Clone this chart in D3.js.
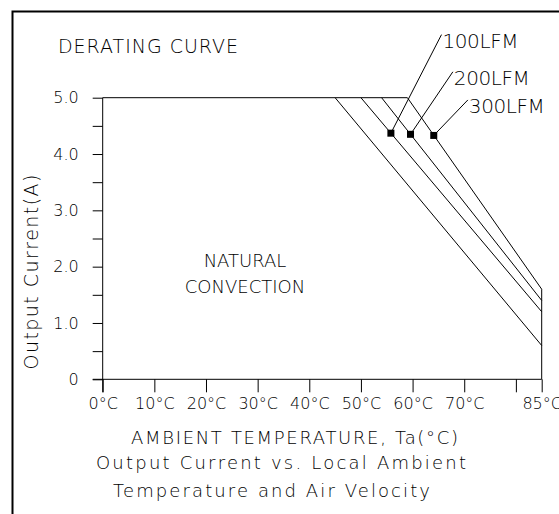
<!DOCTYPE html>
<html>
<head>
<meta charset="utf-8">
<script src="https://cdn.jsdelivr.net/npm/d3@7"></script>
<style>
  body { margin: 0; background: #fff; }
  svg { display: block; }
  text { font-family: "DejaVu Sans", sans-serif; font-weight: 200; fill: #000; }
</style>
</head>
<body>
<svg id="chart" width="559" height="514"></svg>
<script>
const width = 559;
const height = 514;

// temperature axis (deg C) and current axis (A)
const tempTicks = [0, 10, 20, 30, 40, 50, 60, 70, 80, 85];
const tempLabels = ['0°C', '10°C', '20°C', '30°C', '40°C', '50°C', '60°C', '70°C', '', '85°C'];
const currentTicks = [0, 0.5, 1, 1.5, 2, 2.5, 3, 3.5, 4, 4.5, 5];
const currentLabels = ['0', '', '1.0', '', '2.0', '', '3.0', '', '4.0', '', '5.0'];

// derating curves: flat at max current until start temp, then linear to 85 deg C
const seriesNames = ['NATURAL CONVECTION', '100LFM', '200LFM', '300LFM'];
const maxCurrent = 5.0;
const derateStart = [45, 50, 54, 59];
const currentAt85 = [0.6, 1.2, 1.4, 1.6];

// callout markers on the airflow curves and where their leaders end
const markerTemp = [55.8, 59.6, 64.1];
const markerCurrent = [4.37, 4.35, 4.33];
const leaderTemp = [65.6, 67.8, 70.7];
const leaderCurrent = [6.12, 5.46, 4.96];

const x = d3.scaleLinear().domain([0, 85]).range([102.7, 541.7]);
const y = d3.scaleLinear().domain([0, 5]).range([379.3, 97.7]);

const svg = d3.select('#chart');

// outer frame (runs off the right and bottom of the picture)
svg.append('rect')
  .attr('x', 12.5).attr('y', 11.5)
  .attr('width', 600).attr('height', 600)
  .attr('fill', 'none').attr('stroke', '#000').attr('stroke-width', 2);

svg.append('text')
  .attr('x', 58).attr('y', 53)
  .attr('font-size', 19)
  .attr('textLength', 180).attr('lengthAdjust', 'spacing')
  .text('DERATING CURVE');

// axes
const yAxis = d3.axisLeft(y)
  .tickValues(currentTicks)
  .tickFormat((d, i) => currentLabels[i])
  .tickSize(10).tickSizeOuter(0).tickPadding(14);

const xAxis = d3.axisBottom(x)
  .tickValues(tempTicks)
  .tickFormat((d, i) => tempLabels[i])
  .tickSize(13).tickSizeOuter(0).tickPadding(5);

const gy = svg.append('g')
  .attr('transform', `translate(${x(0)},0)`)
  .call(yAxis);
gy.select('.domain').remove();
gy.selectAll('text').attr('font-size', 16).attr('font-family', null);

const gx = svg.append('g')
  .attr('transform', `translate(0,${y(0)})`)
  .call(xAxis);
gx.select('.domain').remove();
gx.selectAll('text').attr('font-size', 16).attr('font-family', null);

svg.selectAll('.tick line').attr('stroke', '#000');

svg.append('line')
  .attr('x1', x(0)).attr('x2', x(0))
  .attr('y1', y(maxCurrent)).attr('y2', y(0) + 13)
  .attr('stroke', '#000');
svg.append('line')
  .attr('x1', x(0) - 10).attr('x2', x(85))
  .attr('y1', y(0)).attr('y2', y(0))
  .attr('stroke', '#000');

svg.append('text')
  .attr('transform', `translate(31,272) rotate(-90)`)
  .attr('text-anchor', 'middle')
  .attr('dy', '0.36em')
  .attr('font-size', 19)
  .attr('textLength', 195).attr('lengthAdjust', 'spacing')
  .text('Output Current(A)');

// curves
const line = d3.line().x(d => x(d[0])).y(d => y(d[1]));
const last = derateStart.length - 1;
const curves = derateStart.map((t, i) => {
  if (i === last) {
    return [[0, maxCurrent], [t, maxCurrent], [85, currentAt85[i]], [85, 0]];
  }
  return [[t, maxCurrent], [85, currentAt85[i]]];
});

svg.append('g').selectAll('path')
  .data(curves)
  .join('path')
  .attr('d', line)
  .attr('fill', 'none')
  .attr('stroke', '#000')
  .attr('stroke-width', 1);

// leaders and markers
const callouts = markerTemp.map((t, i) => ({
  name: seriesNames[i + 1],
  mx: x(t), my: y(markerCurrent[i]),
  lx: x(leaderTemp[i]), ly: y(leaderCurrent[i])
}));

svg.append('g').selectAll('line')
  .data(callouts)
  .join('line')
  .attr('x1', d => d.mx).attr('y1', d => d.my)
  .attr('x2', d => d.lx).attr('y2', d => d.ly)
  .attr('stroke', '#000');

svg.append('g').selectAll('rect')
  .data(callouts)
  .join('rect')
  .attr('x', d => d.mx - 3.5).attr('y', d => d.my - 3.5)
  .attr('width', 7).attr('height', 7)
  .attr('fill', '#000');

svg.append('g').selectAll('text')
  .data(callouts)
  .join('text')
  .attr('x', d => d.lx + 1).attr('y', d => d.ly + 13)
  .attr('font-size', 20)
  .attr('textLength', 76).attr('lengthAdjust', 'spacing')
  .text(d => d.name);

// natural convection label
const natural = seriesNames[0].split(' ');
svg.append('text')
  .attr('text-anchor', 'middle')
  .attr('y', 267)
  .attr('font-size', 18)
  .selectAll('tspan')
  .data(natural)
  .join('tspan')
  .attr('x', 245)
  .attr('dy', (d, i) => i ? 26 : 0)
  .text(d => d);

// captions under the chart
const captions = [
  { t: 'AMBIENT TEMPERATURE, Ta(°C)', x: 131, y: 444, w: 327 },
  { t: 'Output Current vs. Local Ambient', x: 96, y: 469, w: 370 },
  { t: 'Temperature and Air Velocity', x: 113, y: 497, w: 317 }
];
svg.append('g').selectAll('text')
  .data(captions)
  .join('text')
  .attr('x', d => d.x).attr('y', d => d.y)
  .attr('font-size', 18)
  .attr('textLength', d => d.w).attr('lengthAdjust', 'spacing')
  .text(d => d.t);
</script>
</body>
</html>
